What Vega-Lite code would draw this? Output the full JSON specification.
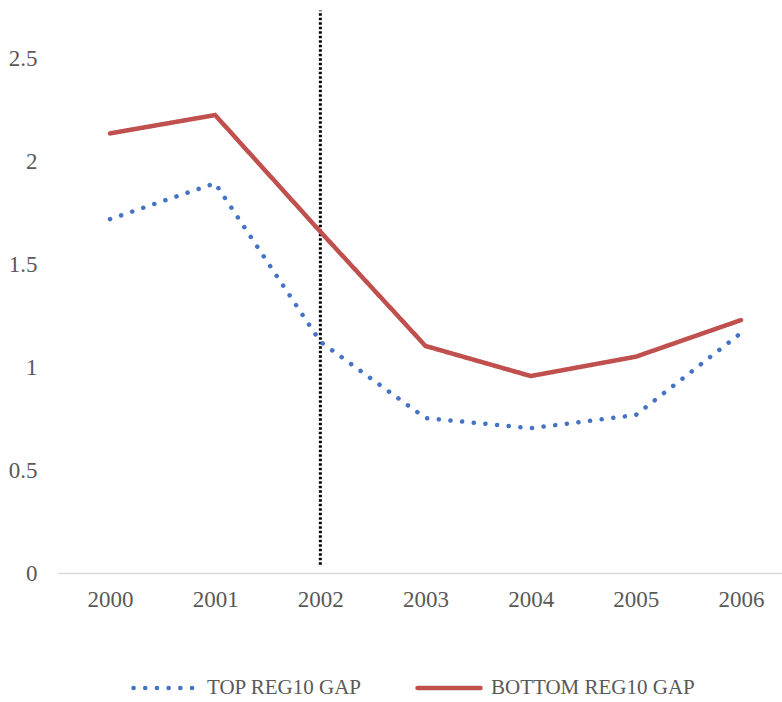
{
  "$schema": "https://vega.github.io/schema/vega-lite/v6.json",
  "width": 724,
  "height": 515,
  "autosize": {"type": "none"},
  "padding": {"left": 58, "top": 58, "right": 0, "bottom": 129},
  "background": "white",
  "config": {
    "view": {"stroke": null},
    "font": "Liberation Serif",
    "axis": {"labelFont": "Liberation Serif", "labelColor": "#595959", "labelFontSize": 23, "grid": false, "ticks": false, "title": null},
    "legend": {"labelFont": "Liberation Serif", "labelColor": "#595959", "labelFontSize": 21}
  },
  "datasets": {
    "series": [
      {"year": 2000, "series": "TOP REG10 GAP", "value": 1.718},
      {"year": 2001, "series": "TOP REG10 GAP", "value": 1.892},
      {"year": 2002, "series": "TOP REG10 GAP", "value": 1.123},
      {"year": 2003, "series": "TOP REG10 GAP", "value": 0.752},
      {"year": 2004, "series": "TOP REG10 GAP", "value": 0.703},
      {"year": 2005, "series": "TOP REG10 GAP", "value": 0.767},
      {"year": 2006, "series": "TOP REG10 GAP", "value": 1.165},
      {"year": 2000, "series": "BOTTOM REG10 GAP", "value": 2.134},
      {"year": 2001, "series": "BOTTOM REG10 GAP", "value": 2.223},
      {"year": 2002, "series": "BOTTOM REG10 GAP", "value": 1.657},
      {"year": 2003, "series": "BOTTOM REG10 GAP", "value": 1.102},
      {"year": 2004, "series": "BOTTOM REG10 GAP", "value": 0.956},
      {"year": 2005, "series": "BOTTOM REG10 GAP", "value": 1.05},
      {"year": 2006, "series": "BOTTOM REG10 GAP", "value": 1.228}
    ],
    "marker": [
      {"year": 2002, "lo": 0.04, "hi": 2.73}
    ]
  },
  "layer": [
    {
      "data": {"name": "marker"},
      "mark": {"type": "rule", "color": "black", "strokeWidth": 3, "strokeDash": [2.5, 2]},
      "encoding": {
        "x": {"field": "year", "type": "quantitative", "scale": {"domain": [1999.5056, 2006.3897], "nice": false, "zero": false}},
        "y": {"field": "lo", "type": "quantitative"},
        "y2": {"field": "hi"}
      }
    },
    {
      "data": {"name": "series"},
      "mark": {"type": "line", "strokeWidth": 4.5, "strokeCap": "round"},
      "encoding": {
        "x": {
          "field": "year", "type": "quantitative",
          "scale": {"domain": [1999.5056, 2006.3897], "nice": false, "zero": false},
          "axis": {"values": [2000, 2001, 2002, 2003, 2004, 2005, 2006], "format": "d", "labelAngle": 0, "domainColor": "#d9d9d9", "domainWidth": 1.5, "labelPadding": 15, "labelFlush": false, "labelOverlap": false}
        },
        "y": {
          "field": "value", "type": "quantitative",
          "scale": {"domain": [0, 2.5], "nice": false},
          "axis": {"values": [0, 0.5, 1, 1.5, 2, 2.5], "format": "~g", "domain": false, "labelPadding": 21}
        },
        "color": {
          "field": "series", "type": "nominal",
          "scale": {"domain": ["TOP REG10 GAP", "BOTTOM REG10 GAP"], "range": ["#4472c4", "#c0504d"]},
          "legend": {
            "title": null, "orient": "none", "direction": "horizontal",
            "legendX": 73, "legendY": 596,
            "symbolType": "stroke", "symbolSize": 3969, "symbolStrokeWidth": 4.5,
            "labelOffset": 8, "columnPadding": 46, "labelLimit": 400,
            "encode": {"symbols": {"update": {"strokeCap": {"value": "round"}}}}
          }
        },
        "strokeDash": {
          "field": "series", "type": "nominal",
          "scale": {"domain": ["TOP REG10 GAP", "BOTTOM REG10 GAP"], "range": [[0.1, 11.6], [1, 0]]},
          "legend": null
        }
      }
    }
  ]
}
